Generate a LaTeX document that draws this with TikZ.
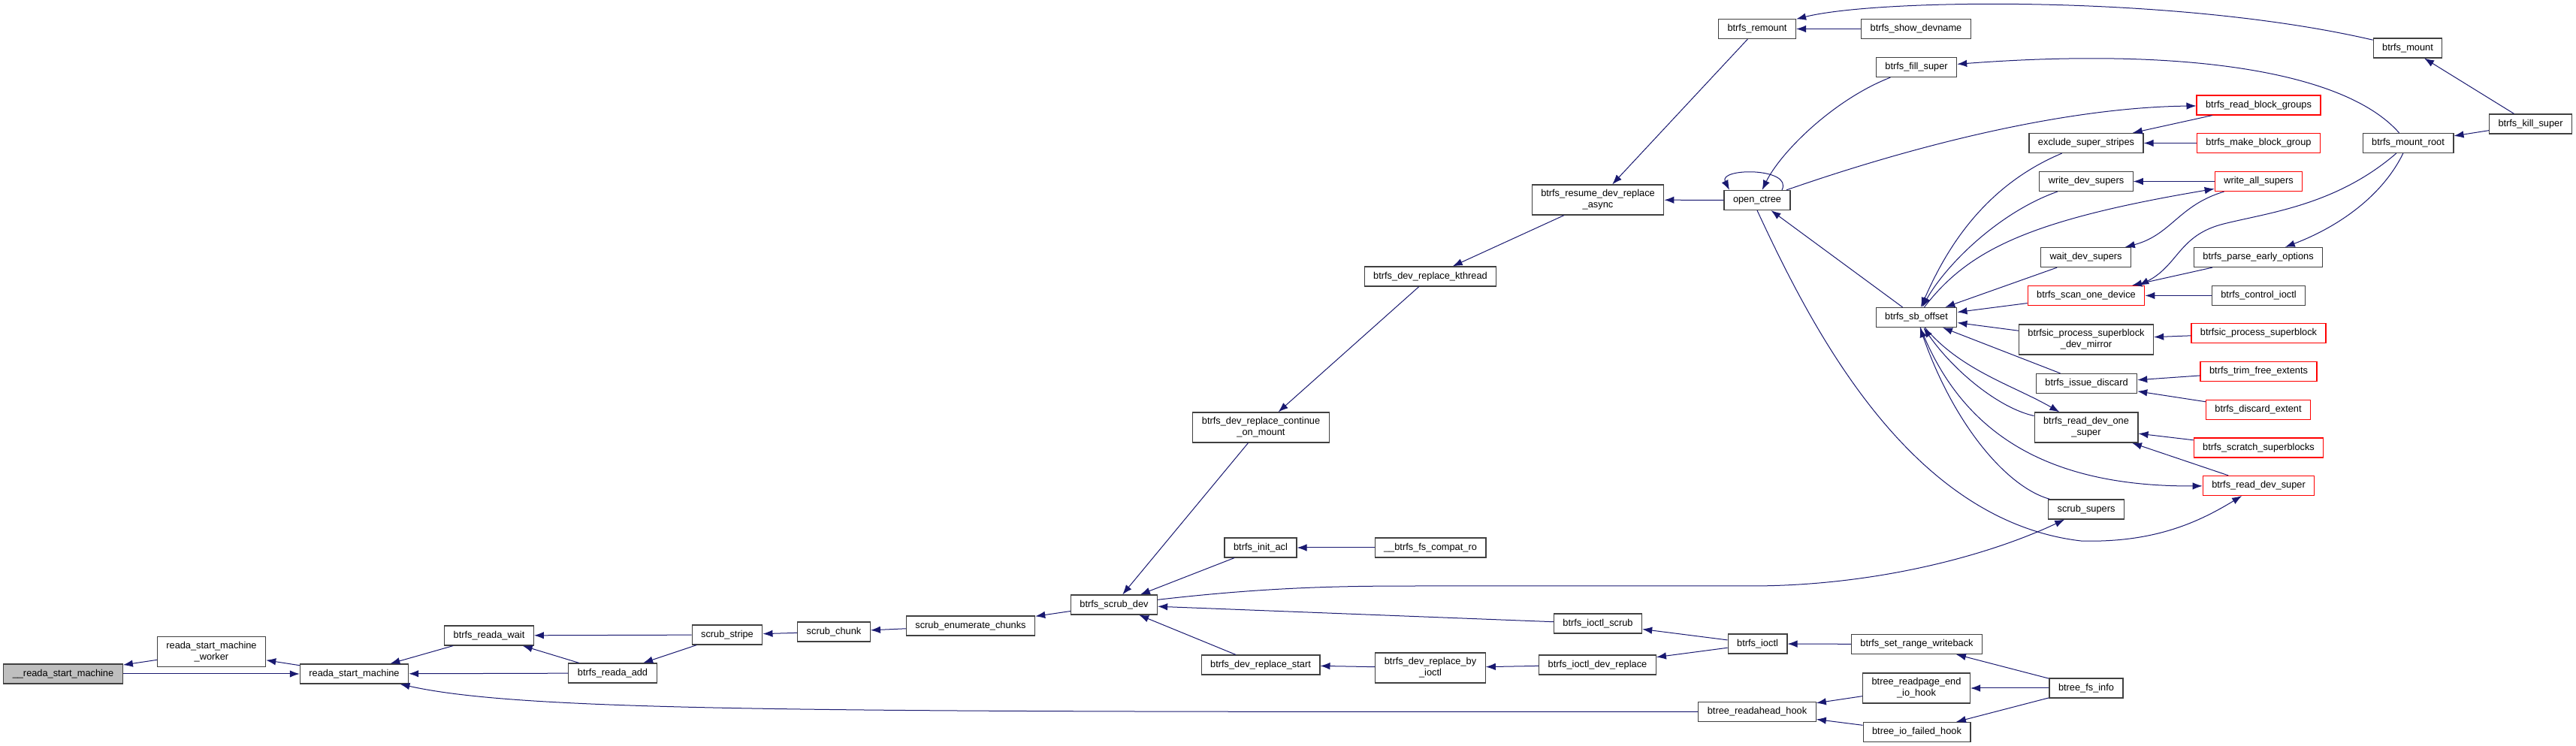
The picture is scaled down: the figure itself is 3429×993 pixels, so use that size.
\documentclass[tikz,border=0pt]{standalone}
\usepackage{fontspec}
\setmainfont{Liberation Sans}
\usetikzlibrary{arrows.meta}

\definecolor{edgeblue}{HTML}{191970}
\definecolor{boxgray}{HTML}{404040}
\definecolor{focusgray}{HTML}{BFBFBF}

\begin{document}
\begin{tikzpicture}[
    x=1pt, y=1pt,
    func/.style={
        draw=boxgray,
        fill=white,
        rectangle,
        line width=1.2pt,
        minimum height=26pt,
        inner xsep=12pt,
        inner ysep=2pt,
        align=center,
        font=\fontsize{12.8}{15}\selectfont
    },
    tall/.style={func, minimum height=40pt},
    hot/.style={func, draw=red},
    focus/.style={func, fill=focusgray},
    calls/.style={draw=edgeblue, line width=1pt, -{Latex[length=13pt, width=9.5pt]}}
]

\useasboundingbox (0,0) rectangle (3429,993);

% Reada chain
\node[focus] (rsminner) at (84,96) {\_\_reada\_start\_machine};

\node[tall] (rsmworker) at (281.5,125.5) {reada\_start\_machine\\\_worker};

\node[func] (rsm) at (471.5,96) {reada\_start\_machine};

\node[func] (readawait) at (651,147) {btrfs\_reada\_wait};

\node[func] (readaadd) at (815.5,97) {btrfs\_reada\_add};

% Scrub chain
\node[func] (scrubstripe) at (968,148) {scrub\_stripe};

\node[func] (scrubchunk) at (1110,152) {scrub\_chunk};

\node[func] (scrubenum) at (1292,160) {scrub\_enumerate\_chunks};

\node[func] (scrubdev) at (1483,188) {btrfs\_scrub\_dev};

\node[func] (initacl) at (1678,264) {btrfs\_init\_acl};

\node[func] (compatro) at (1904,264) {\_\_btrfs\_fs\_compat\_ro};

\node[func] (ioctlscrub) at (2127,163) {btrfs\_ioctl\_scrub};

\node[func] (ioctl) at (2339.5,136) {btrfs\_ioctl};

\node[func] (replacestart) at (1678,108) {btrfs\_dev\_replace\_start};

\node[tall] (replacebyioctl) at (1904,104) {btrfs\_dev\_replace\_by\\\_ioctl};

\node[func] (ioctlreplace) at (2126.5,108) {btrfs\_ioctl\_dev\_replace};

% Readahead hooks
\node[func] (readahead) at (2339,45.5) {btree\_readahead\_hook};

\node[func] (setrange) at (2551.5,135.5) {btrfs\_set\_range\_writeback};

\node[tall] (readpageend) at (2551,77) {btree\_readpage\_end\\\_io\_hook};

\node[func] (iofailed) at (2551.5,18.5) {btree\_io\_failed\_hook};

\node[func] (fsinfo) at (2777,77) {btree\_fs\_info};

% Dev replace and mount
\node[tall] (continuemount) at (1678.5,424) {btrfs\_dev\_replace\_continue\\\_on\_mount};

\node[func] (kthread) at (1904,625) {btrfs\_dev\_replace\_kthread};

\node[tall] (resume) at (2127,727) {btrfs\_resume\_dev\_replace\\\_async};

\node[func] (remount) at (2339,954.5) {btrfs\_remount};

\node[func] (openctree) at (2339,726.5) {open\_ctree};

\node[func] (showdevname) at (2550.5,954.5) {btrfs\_show\_devname};

\node[func] (fillsuper) at (2551,903.5) {btrfs\_fill\_super};

\node[func] (sboffset) at (2551,570.5) {btrfs\_sb\_offset};

\node[func] (mount) at (3205,929) {btrfs\_mount};

\node[func] (killsuper) at (3368.5,828) {btrfs\_kill\_super};

\node[func] (mountroot) at (3205.5,802.5) {btrfs\_mount\_root};

% Super block users
\node[hot] (readbg) at (3006.5,853) {btrfs\_read\_block\_groups};

\node[func] (exclude) at (2777,802.5) {exclude\_super\_stripes};

\node[hot] (makebg) at (3006.5,802.5) {btrfs\_make\_block\_group};

\node[func] (writedev) at (2777,751.5) {write\_dev\_supers};

\node[hot] (writeall) at (3006.5,751.5) {write\_all\_supers};

\node[func] (waitdev) at (2776.5,650.5) {wait\_dev\_supers};

\node[func] (parseearly) at (3006,650.5) {btrfs\_parse\_early\_options};

\node[hot] (scandev) at (2777,599.5) {btrfs\_scan\_one\_device};

\node[func] (controlioctl) at (3006.5,599.5) {btrfs\_control\_ioctl};

\node[tall] (devmirror) at (2777,541) {btrfsic\_process\_superblock\\\_dev\_mirror};

\node[hot] (procsb) at (3006.5,549.5) {btrfsic\_process\_superblock};

\node[hot] (trimfree) at (3006.5,498.5) {btrfs\_trim\_free\_extents};

\node[func] (issuediscard) at (2777.5,482.5) {btrfs\_issue\_discard};

\node[hot] (discardext) at (3006,447.5) {btrfs\_discard\_extent};

\node[tall] (readone) at (2777,424) {btrfs\_read\_dev\_one\\\_super};

\node[hot] (scratchsb) at (3006.5,397) {btrfs\_scratch\_superblocks};

\node[hot] (readdevsuper) at (3006.5,346.5) {btrfs\_read\_dev\_super};

\node[func] (scrubsupers) at (2777,315) {scrub\_supers};

% Reada edges
\draw[calls] (rsmworker) -- (rsminner);
\draw[calls] (rsminner) -- (rsm);
\draw[calls] (rsm) -- (rsmworker);
\draw[calls] (readawait) -- (rsm);
\draw[calls] (readaadd) -- (rsm);
\draw[calls] (readaadd) -- (readawait);
\draw[calls] (scrubstripe) -- (readawait);
\draw[calls] (scrubstripe) -- (readaadd);
\draw[calls] (readahead.west) .. controls (1100,45.5) and (700,45) .. (rsm);

% Scrub edges
\draw[calls] (scrubchunk) -- (scrubstripe);
\draw[calls] (scrubenum) -- (scrubchunk);
\draw[calls] (scrubdev) -- (scrubenum);
\draw[calls] (continuemount) -- (scrubdev);
\draw[calls] (initacl) -- (scrubdev);
\draw[calls] (ioctlscrub) -- (scrubdev);
\draw[calls] (replacestart) -- (scrubdev);
\draw[calls] (compatro) -- (initacl);
\draw[calls] (ioctl) -- (ioctlscrub);
\draw[calls] (ioctl) -- (ioctlreplace);
\draw[calls] (ioctlreplace) -- (replacebyioctl);
\draw[calls] (replacebyioctl) -- (replacestart);
\draw[calls] (scrubdev) .. controls (1700,213) and (1800,213) .. (1900,213) -- (2330,213) .. controls (2500,213) and (2650,255) .. (scrubsupers);

% Hook edges
\draw[calls] (setrange) -- (ioctl);
\draw[calls] (fsinfo) -- (setrange);
\draw[calls] (fsinfo) -- (readpageend);
\draw[calls] (fsinfo) -- (iofailed);
\draw[calls] (readpageend) -- (readahead);
\draw[calls] (iofailed) -- (readahead);

% Replace and mount edges
\draw[calls] (kthread) -- (continuemount);
\draw[calls] (resume) -- (kthread);
\draw[calls] (remount) -- (resume);
\draw[calls] (openctree) -- (resume);
\draw[calls] ([xshift=33pt]openctree.north) .. controls +(15,30) and +(-15,30) .. ([xshift=-37pt]openctree.north);
\draw[calls] (showdevname) -- (remount);
\draw[calls] (mount) .. controls (2900,1000) and (2500,995) .. (remount);
\draw[calls] (fillsuper) .. controls (2440,860) and (2370,790) .. (openctree);
\draw[calls] (sboffset) -- (openctree);
\draw[calls] (openctree) .. controls (2550,800) and (2750,850) .. (readbg);
\draw[calls] (openctree.south) .. controls (2410,560) and (2540,300) .. (2770,273) .. controls (2870,270) and (2930,300) .. (readdevsuper);
\draw[calls] (mountroot) .. controls (3120,900) and (2900,930) .. (fillsuper);
\draw[calls] (killsuper) -- (mount);
\draw[calls] (killsuper) -- (mountroot);
\draw[calls] (mountroot) .. controls (3170,730) and (3110,690) .. (parseearly);
\draw[calls] (mountroot) .. controls (3110,720) and (3020,710) .. (2960,695) .. controls (2900,680) and (2900,640) .. ([xshift=-8pt]scandev.north east);

% Super block edges
\draw[calls] (readbg) -- (exclude);
\draw[calls] (makebg) -- (exclude);
\draw[calls] (exclude) .. controls (2640,745) and (2590,660) .. (sboffset);
\draw[calls] (writeall) -- (writedev);
\draw[calls] (writedev) .. controls (2660,710) and (2590,640) .. (sboffset);
\draw[calls] (sboffset) .. controls (2620,660) and (2700,700) .. (writeall);
\draw[calls] (writeall) .. controls (2900,720) and (2890,680) .. (waitdev);
\draw[calls] (waitdev) -- (sboffset);
\draw[calls] (parseearly) -- (scandev);
\draw[calls] (controlioctl) -- (scandev);
\draw[calls] (scandev) -- (sboffset);
\draw[calls] (procsb) -- (devmirror);
\draw[calls] (devmirror) -- (sboffset);
\draw[calls] (trimfree) -- (issuediscard);
\draw[calls] (discardext) -- (issuediscard);
\draw[calls] (issuediscard) -- (sboffset);
\draw[calls] (sboffset) .. controls (2610,500) and (2680,480) .. (readone);
\draw[calls] (readone) .. controls (2660,450) and (2600,500) .. (sboffset);
\draw[calls] (scratchsb) -- (readone);
\draw[calls] (readdevsuper) -- (readone);
\draw[calls] (sboffset) .. controls (2610,420) and (2720,345) .. (readdevsuper);
\draw[calls] (scrubsupers) .. controls (2670,345) and (2600,430) .. (sboffset);

\end{tikzpicture}
\end{document}
